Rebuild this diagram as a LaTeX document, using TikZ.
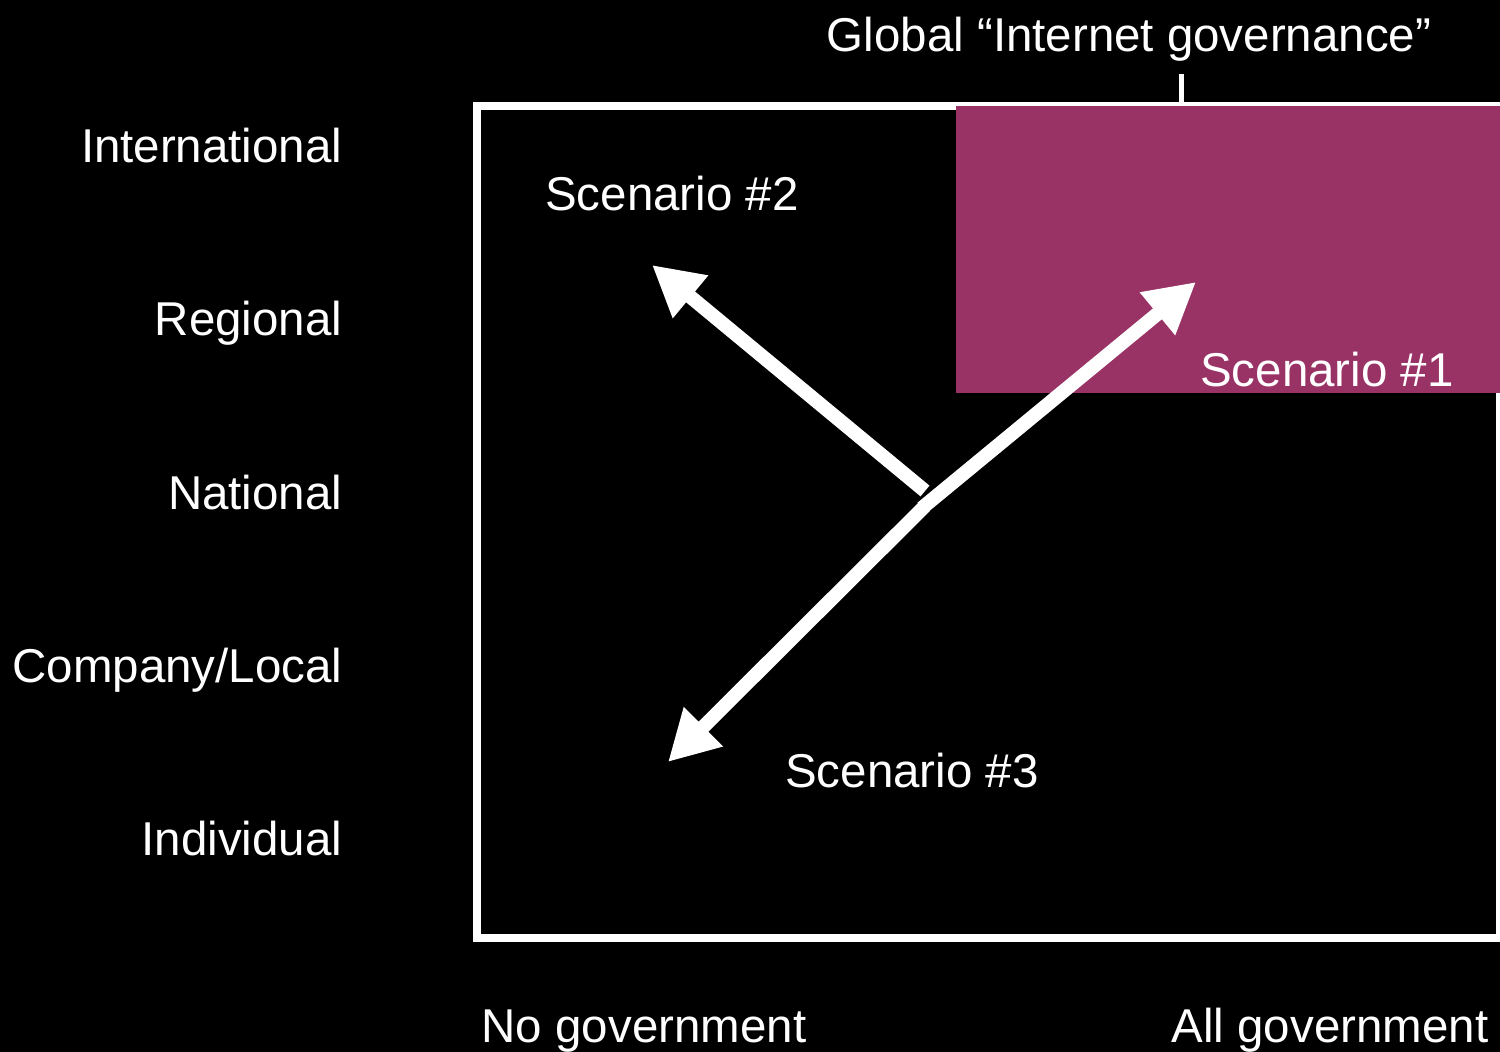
\documentclass[tikz,border=0pt]{standalone}
\usepackage{fontspec}
\setmainfont{Liberation Sans}
\usetikzlibrary{arrows.meta}
\definecolor{plum}{HTML}{993366}
\tikzset{
    lbl/.style={text=white,font=\fontsize{13.5}{16}\selectfont,inner sep=0pt},
    bigarrow/.style={white,line width=0.14cm,-{Triangle[length=0.5cm,width=0.52cm]}}
}
\begin{document}
\begin{tikzpicture}[x=0.01cm,y=-0.01cm]
            \useasboundingbox (0,0) rectangle (1500,1052);
            \fill[black] (0,0) rectangle (1500,1052);
            \clip (0,0) rectangle (1500,1052);
            \draw[white,line width=0.08cm] (477,106) rectangle (1500,938);
            \fill[plum] (956,106) rectangle (1500,393);
            \draw[white,line width=0.05cm] (1181,74) -- (1181,103);
            \foreach \y/\t/\n in {163/International/intl,336/Regional/regn,509/National/natl,682/Company\slash Local/comp,855/Individual/indv}
            {
                \node[lbl,anchor=base east] (\n) at (343,\y) {\t};
            }
                \node[lbl,anchor=base] (global) at (1129,52) {Global “Internet governance”};
                \node[lbl,anchor=base] (scen2) at (672,211) {Scenario \#2};
                \node[lbl,anchor=base] (scen1) at (1327,387) {Scenario \#1};
                \node[lbl,anchor=base] (scen3) at (912,787) {Scenario \#3};
                \node[lbl,anchor=base west] (nogov) at (481,1042) {No government};
                \node[lbl,anchor=base east] (allgov) at (1489,1042) {All government};
            \coordinate (hub2) at (925,491);
            \coordinate (hub1) at (922,508);
            \coordinate (hub3) at (925,506);
            \coordinate (tip2) at (652,265);
            \coordinate (tip1) at (1196,282);
            \coordinate (tip3) at (668,762);
                \draw[bigarrow] (hub2) -- (tip2);
                \draw[bigarrow] (hub1) -- (tip1);
                \draw[bigarrow] (hub3) -- (tip3);
        \end{tikzpicture}
\end{document}
